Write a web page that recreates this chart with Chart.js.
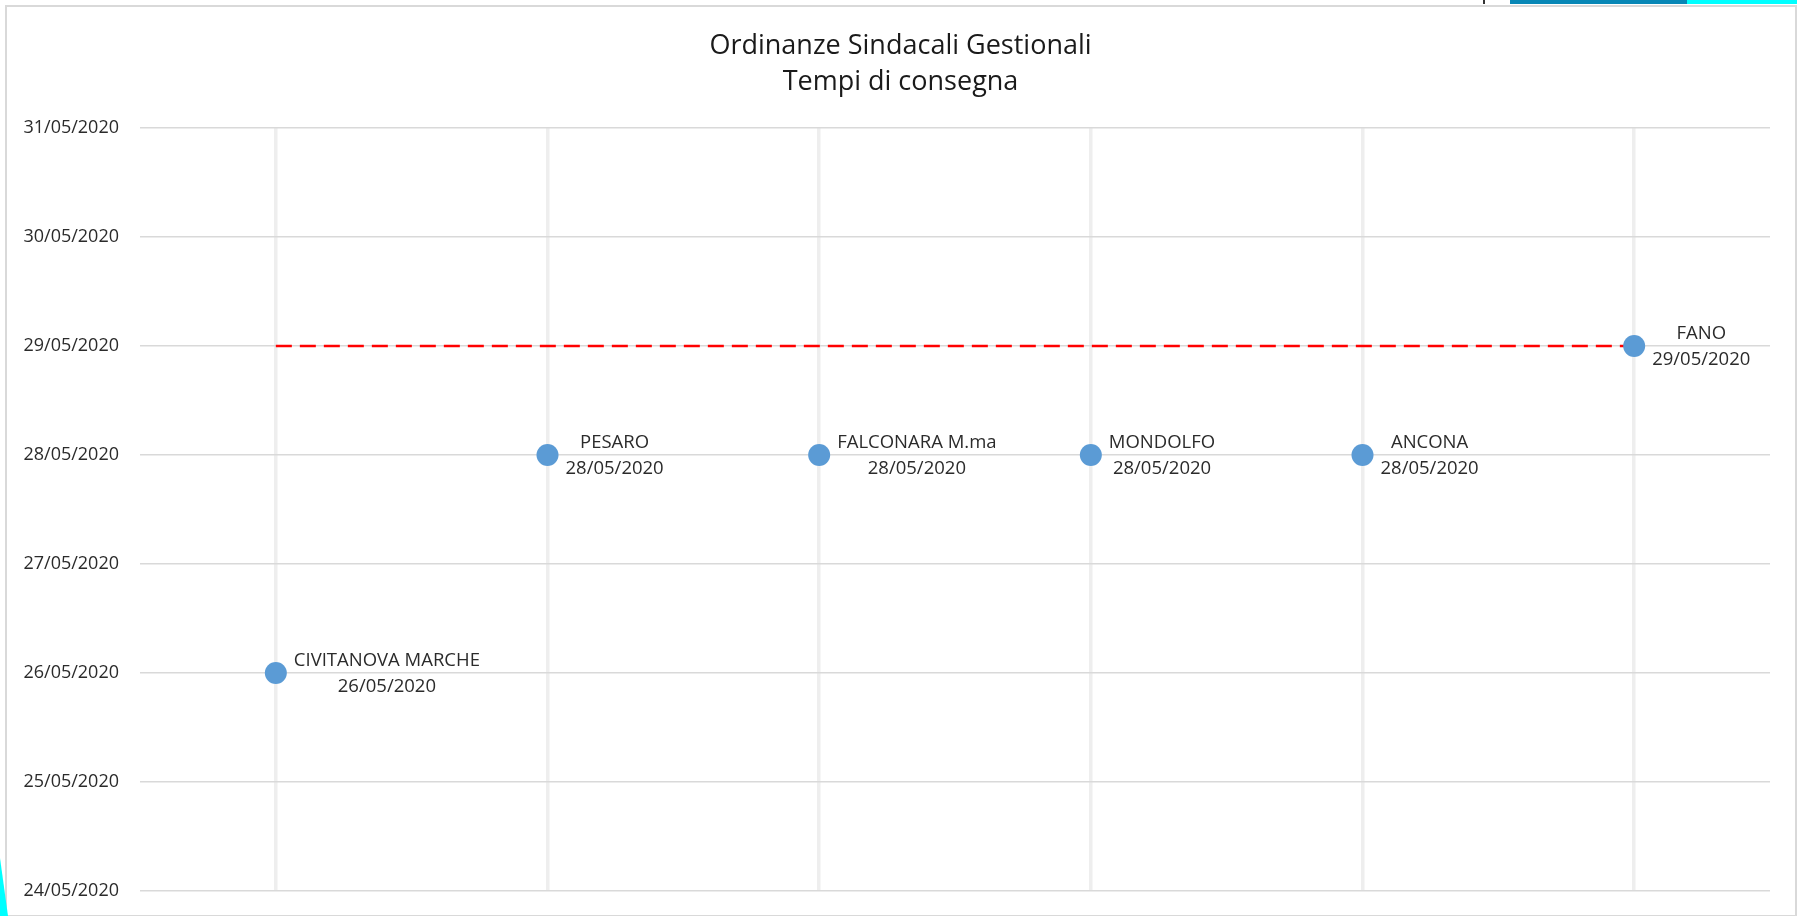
<!DOCTYPE html>
<html lang="it">
<head>
<meta charset="utf-8">
<title>Ordinanze Sindacali Gestionali - Tempi di consegna</title>
<script src="https://cdn.jsdelivr.net/npm/chart.js@4.4.1/dist/chart.umd.min.js"></script>
<style>
    html, body { margin: 0; padding: 0; background: #ffffff; overflow: hidden; }
    #contenitore { position: relative; width: 1797px; height: 916px; }
    #bordo {
        position: absolute; left: 5px; top: 5px; width: 1788px; height: 908px;
        border: 2px solid #d9d9d9; box-sizing: content-box; pointer-events: none;
    }
    #grafico { position: absolute; left: 0; top: 0; }
    /* ritagli dello screenshot originale */
    .striscia { position: absolute; top: 0; height: 4px; }
    #cuneo {
        position: absolute; left: 0; top: 858px; width: 8px; height: 58px; background: #00ffff;
        clip-path: polygon(0 0, 100% 100%, 0 100%);
    }
</style>
</head>
<body>
<div id="contenitore">
    <canvas id="grafico" width="1797" height="916"></canvas>
    <div id="bordo"></div>
    <div class="striscia" style="left:1483px;width:2px;background:#333;"></div>
    <div class="striscia" style="left:1510px;width:177px;background:#0787b6;"></div>
    <div class="striscia" style="left:1687px;width:110px;background:#00ffff;"></div>
    <div id="cuneo"></div>
</div>
<script>
// Dati
const categorie = ['CIVITANOVA MARCHE', 'PESARO', 'FALCONARA M.ma', 'MONDOLFO', 'ANCONA', 'FANO'];
const dateConsegna = ['26/05/2020', '28/05/2020', '28/05/2020', '28/05/2020', '28/05/2020', '29/05/2020'];
const scadenza = '29/05/2020';
const inizioAsse = '24/05/2020';
const fineAsse = '31/05/2020';
const titolo = ['Ordinanze Sindacali Gestionali', 'Tempi di consegna'];

const FONT = '"Open Sans", "Noto Sans", sans-serif';

// Converte gg/mm/aaaa in giorni (UTC) e viceversa
function inGiorni(testo) {
    const [g, m, a] = testo.split('/').map(Number);
    return Date.UTC(a, m - 1, g) / 86400000;
}

function dueCifre(n) {
    return String(n).padStart(2, '0');
}

function formattaData(giorni) {
    const d = new Date(Math.round(giorni) * 86400000);
    return dueCifre(d.getUTCDate()) + '/' + dueCifre(d.getUTCMonth() + 1) + '/' + d.getUTCFullYear();
}

// Titolo su due righe
const titoloPlugin = {
    id: 'titolo',
    afterDraw(chart) {
        const ctx = chart.ctx;
        ctx.save();
        ctx.font = '27px ' + FONT;
        ctx.fillStyle = '#1a1a1a';
        ctx.textAlign = 'center';
        ctx.textBaseline = 'middle';
        ctx.fillText(titolo[0], chart.width / 2 + 2, 46);
        ctx.fillText(titolo[1], chart.width / 2 + 2, 82);
        ctx.restore();
    }
};

// Etichette dei punti: comune + data
const etichettePlugin = {
    id: 'etichette',
    afterDatasetsDraw(chart) {
        const ctx = chart.ctx;
        const meta = chart.getDatasetMeta(0);
        ctx.save();
        ctx.font = '18.5px ' + FONT;
        ctx.fillStyle = '#2b2b2b';
        ctx.textAlign = 'center';
        ctx.textBaseline = 'middle';
        meta.data.forEach((punto, i) => {
            const righe = [categorie[i], formattaData(chart.data.datasets[0].data[i])];
            const larghezza = Math.max(...righe.map(r => ctx.measureText(r).width));
            const cx = punto.x + 18 + larghezza / 2;
            ctx.fillText(righe[0], cx, punto.y - 12);
            ctx.fillText(righe[1], cx, punto.y + 14);
        });
        ctx.restore();
    }
};

function creaGrafico() {
    const ctx = document.getElementById('grafico').getContext('2d');

    new Chart(ctx, {
        type: 'line',
        data: {
            labels: categorie,
            datasets: [
                {
                    label: 'Consegna',
                    data: dateConsegna.map(inGiorni),
                    showLine: false,
                    pointRadius: 11,
                    pointHoverRadius: 11,
                    pointBackgroundColor: '#5b9bd5',
                    pointBorderWidth: 0,
                    backgroundColor: '#5b9bd5',
                    borderColor: '#5b9bd5'
                },
                {
                    label: 'Scadenza',
                    data: categorie.map(() => inGiorni(scadenza)),
                    borderColor: '#ff0000',
                    borderWidth: 2.5,
                    borderDash: [16, 8],
                    pointRadius: 0,
                    pointHoverRadius: 0,
                    fill: false
                }
            ]
        },
        options: {
            responsive: false,
            devicePixelRatio: 1,
            animation: false,
            layout: {
                padding: { top: 128, right: 27, bottom: 25, left: 0 }
            },
            plugins: {
                legend: { display: false },
                title: { display: false },
                tooltip: { enabled: false }
            },
            scales: {
                x: {
                    type: 'category',
                    offset: true,
                    border: { display: false },
                    grid: {
                        offset: false,
                        color: '#eeeeee',
                        lineWidth: 3.5,
                        drawTicks: false
                    },
                    ticks: { display: false }
                },
                y: {
                    type: 'linear',
                    min: inGiorni(inizioAsse),
                    max: inGiorni(fineAsse),
                    border: { display: false },
                    grid: {
                        color: '#d9d9d9',
                        lineWidth: 1.5,
                        drawTicks: true,
                        tickLength: 21,
                        tickColor: 'rgba(0,0,0,0)'
                    },
                    ticks: {
                        stepSize: 1,
                        padding: 0,
                        color: '#2b2b2b',
                        font: { family: FONT, size: 18 },
                        callback: value => formattaData(value)
                    },
                    afterFit: scala => { scala.width = 140; }
                }
            }
        },
        plugins: [titoloPlugin, etichettePlugin]
    });
}

document.fonts.load('19px "Open Sans"').then(creaGrafico, creaGrafico);
</script>
</body>
</html>
